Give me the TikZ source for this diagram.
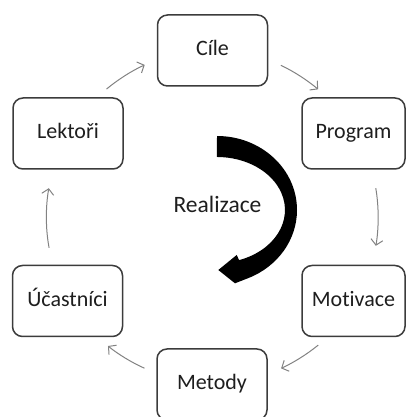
\documentclass[tikz,border=0pt]{standalone}
\usepackage{fontspec}
\setmainfont{Carlito}[RawFeature={-liga;-clig;-calt}]
\usetikzlibrary{arrows.meta}
\definecolor{boxline}{RGB}{60,60,60}
\definecolor{cycgray}{RGB}{130,130,130}
\definecolor{labeltext}{RGB}{30,30,30}

\begin{document}
\begin{tikzpicture}[x=1pt, y=1pt,
			box/.style={rectangle, draw=boxline, line width=1.5pt, rounded corners=10pt, fill=white,
				minimum width=110pt, minimum height=71pt, inner sep=0pt, outer sep=0pt,
				text=labeltext, text height=16pt, text depth=5pt, font=\fontsize{22}{26}\selectfont},
			sbox/.style={box, minimum width=103pt},
			cyc/.style={draw=cycgray, line width=1pt, -{Straight Barb[length=5.5pt,width=12pt]}},
			bigarrow/.style={fill=black}]

			\clip (0,0) rectangle (406,417);

			% drawing boxes
			\node[box] (cil) at (212.5,366.5) {Cíle};
			\node[sbox] (prg) at (353.5,283.5) {Program};
			\node[sbox] (mot) at (353.5,116) {Motivace};
			\node[box] (met) at (212,32.5) {Metody};
			\node[box] (uca) at (67.5,116) {Účastníci};
			\node[box] (lek) at (68,283.5) {Lektoři};

			% drawing cycle arrows
			\draw[cyc, shorten <=14pt, shorten >=14pt] (lek.52.3) to[out=39.6, in=204.1] (cil.189.5);
			\draw[cyc, shorten <=14.7pt, shorten >=13.6pt] (cil.-9.7) to[out=-24.7, in=140.3] (prg.125.2);
			\draw[cyc, shorten <=19.5pt, shorten >=20pt] (prg.-62.4) to[out=-80, in=80] (mot.62.5);
			\draw[cyc, shorten <=13.5pt, shorten >=15.5pt] (mot.-125.7) to[out=-140.5, in=24.6] (met.10.4);
			\draw[cyc, shorten <=13.7pt, shorten >=15.1pt] (met.169.4) to[out=156, in=-39] (uca.-51.4);
			\draw[cyc, shorten <=18pt, shorten >=19.5pt] (uca.113.3) to[out=100.7, in=-100] (lek.-114.4);

			% drawing Realizace
			\node[font=\fontsize{23.5}{28}\selectfont, text=labeltext, anchor=base] (real) at (217.5,204.3) {Realizace};
			\fill[bigarrow] (217,281) arc[start angle=90, end angle=-67.1, x radius=80, y radius=74]
				-- (235,133.7) -- (218.3,147) -- (236.7,162) -- (239.1,156.9)
				arc[start angle=-71, end angle=90, x radius=68, y radius=53] -- cycle;

		\end{tikzpicture}
\end{document}
